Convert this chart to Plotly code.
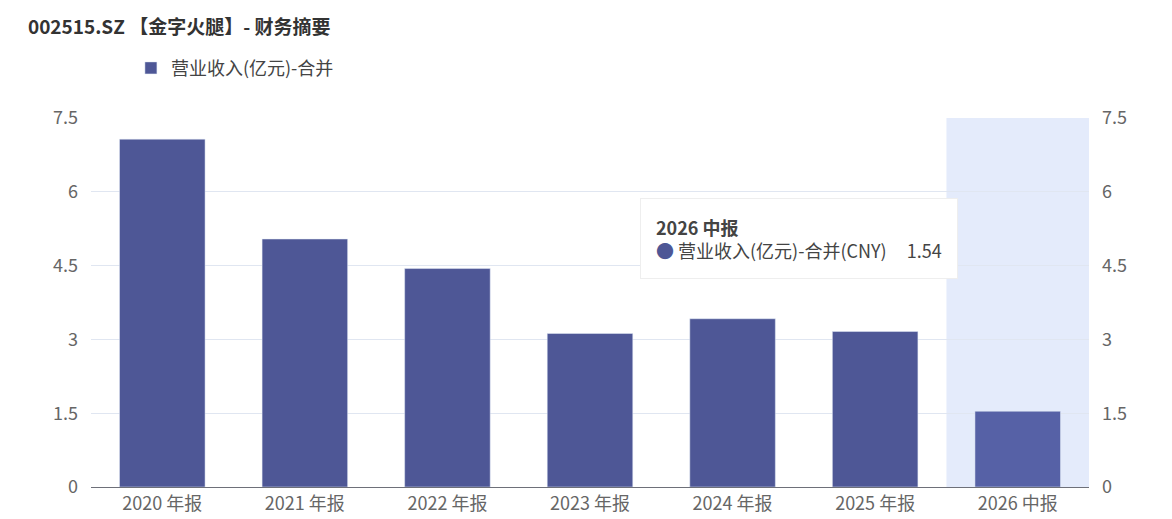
import plotly.graph_objects as go

categories = ["2020 年报", "2021 年报", "2022 年报", "2023 年报", "2024 年报", "2025 年报", "2026 中报"]
revenue = [7.07, 5.04, 4.44, 3.12, 3.42, 3.16, 1.54]
tick_vals = [0, 1.5, 3, 4.5, 6, 7.5]
tick_text = ["0", "1.5", "3", "4.5", "6", "7.5"]

font = "Noto Sans CJK SC"
colors = ["#4e5796"] * (len(categories) - 1) + ["#5661a6"]

fig = go.Figure()
fig.add_trace(go.Bar(x=categories, y=revenue, name="营业收入(亿元)-合并",
                     marker=dict(color=colors), width=0.6))
fig.add_trace(go.Scatter(x=categories, y=revenue, yaxis="y2", mode="none",
                         showlegend=False, hoverinfo="skip"))

fig.add_vrect(x0=5.5, x1=6.5, fillcolor="#e4ebfb", line_width=0, layer="below")

fig.update_layout(
    width=1172, height=519,
    margin=dict(l=83, r=91, t=110, b=38),
    plot_bgcolor="white", paper_bgcolor="white",
    font=dict(family=font, size=18, color="#666"),
    title=dict(text="<b>002515.SZ 【金字火腿】- 财务摘要</b>", x=0.017, y=0.975,
               xanchor="left", yanchor="top", font=dict(size=19, color="#333")),
    legend=dict(orientation="h", x=0.04, y=0.884, yref="container", xanchor="left",
                yanchor="middle", font=dict(size=18, color="#444")),
    bargap=0.4,
    xaxis=dict(showline=True, linecolor="#6e7079", linewidth=1, ticks="",
               tickfont=dict(size=18, color="#666")),
    yaxis=dict(range=[0, 7.5], tickvals=tick_vals, ticktext=tick_text,
               gridcolor="#e0e6f1", zeroline=False, tickfont=dict(size=18, color="#666"),
               ticklabelstandoff=12),
    yaxis2=dict(range=[0, 7.5], tickvals=tick_vals, ticktext=tick_text, overlaying="y",
                side="right", showgrid=False, zeroline=False,
                tickfont=dict(size=18, color="#666"), ticklabelstandoff=12),
)

fig.add_annotation(
    xref="paper", yref="paper", x=0.55, y=0.784, xanchor="left", yanchor="top",
    align="left", showarrow=False,
    text="<b>2026 中报</b><br><span style='color:#4e5796'>●</span> 营业收入(亿元)-合并(CNY)&nbsp;&nbsp;&nbsp;&nbsp;&nbsp;1.54",
    font=dict(size=18, color="#444"), bgcolor="white", bordercolor="#eeeeee",
    borderwidth=1, borderpad=15,
)

fig.write_html("out.html")
